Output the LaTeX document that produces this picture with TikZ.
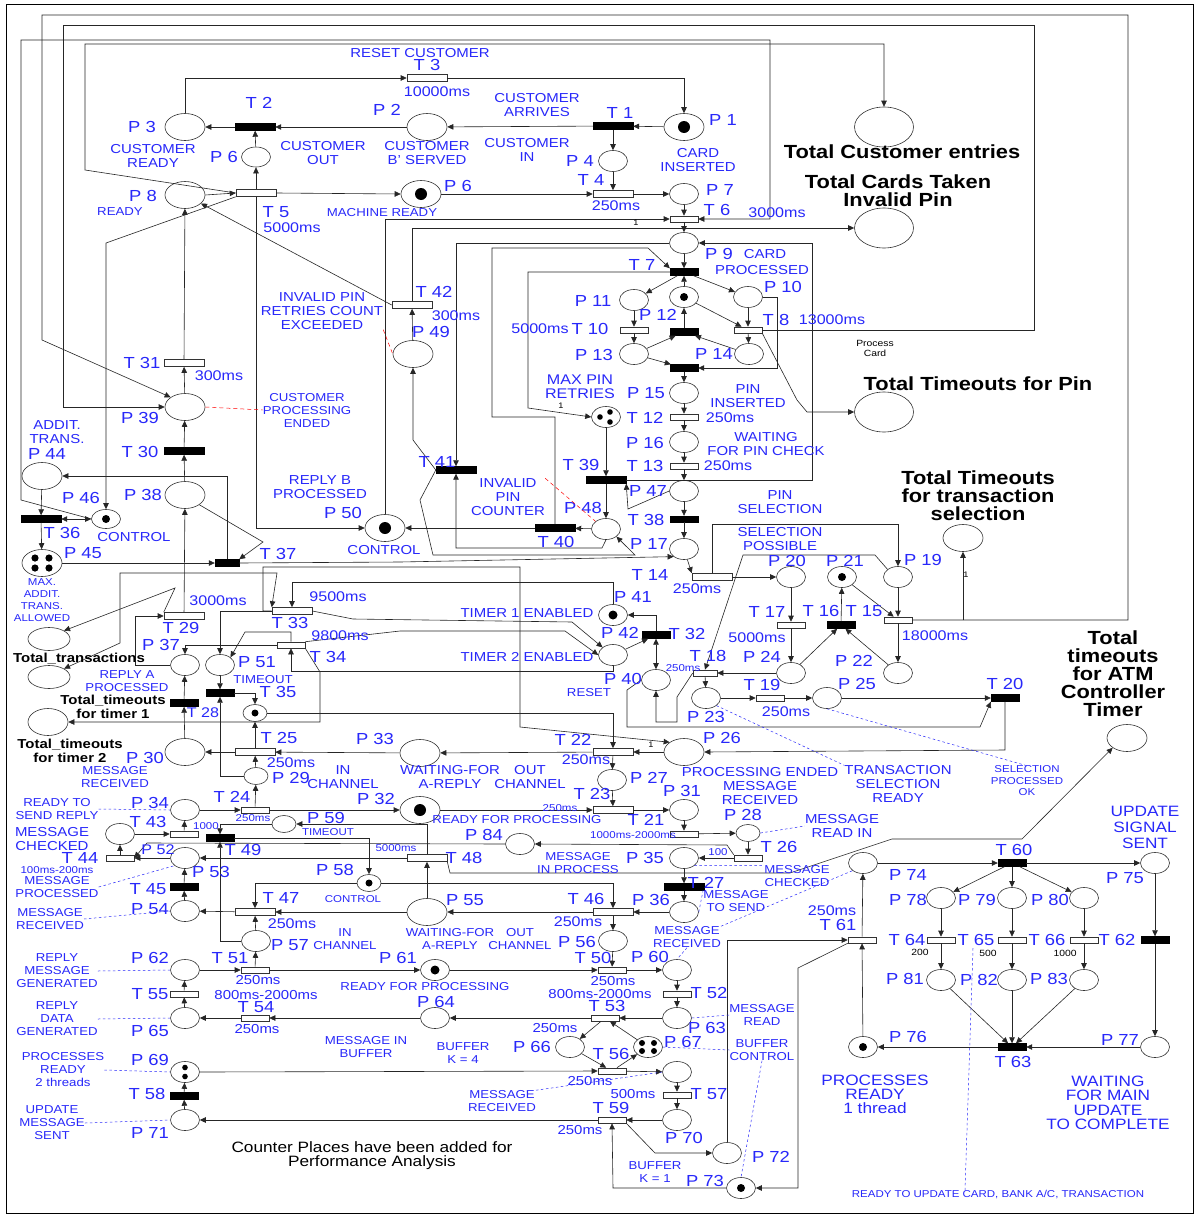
\documentclass[tikz,border=0pt]{standalone}
\usepackage{fontspec}
\setmainfont{Liberation Sans}[FakeStretch=1.15]
\usetikzlibrary{arrows.meta,shapes.geometric}
\definecolor{lb}{RGB}{40,40,250}
\begin{document}
\begin{tikzpicture}[x=1pt,y=-1pt]
\tikzset{
  pl/.style={draw=black!80, line width=0.6pt, ellipse, minimum width=29pt, minimum height=21pt, inner sep=0pt, fill=white},
  pls/.style={pl, minimum width=24pt, minimum height=17pt},
  plb/.style={pl, minimum width=40pt, minimum height=27pt},
  plc/.style={pl, minimum width=59pt, minimum height=40pt},
  tb/.style={draw=black, fill=black, rectangle, minimum width=40pt, minimum height=7pt, inner sep=0pt},
  tbs/.style={tb, minimum width=28pt},
  tw/.style={draw=black!80, line width=0.6pt, fill=white, rectangle, minimum width=40pt, minimum height=7pt, inner sep=0pt},
  tws/.style={tw, minimum width=28pt, minimum height=6pt},
  ar/.style={draw=black!85, line width=0.6pt, -{Triangle[length=6pt,width=5.5pt]}},
  ar2/.style={draw=black!85, line width=0.6pt, {Triangle[length=6pt,width=5.5pt]}-{Triangle[length=6pt,width=5.5pt]}},
  lab/.style={text=lb, font=\fontsize{16}{16}\selectfont, inner sep=0pt},
  dsc/.style={text=lb, font=\fontsize{13}{14}\selectfont, inner sep=0pt, align=center},
  dss/.style={text=lb, font=\fontsize{11.5}{13}\selectfont, inner sep=0pt, align=center},
  tm/.style={text=lb, font=\fontsize{14}{14}\selectfont, inner sep=0pt},
  tms/.style={text=lb, font=\fontsize{13}{13}\selectfont, inner sep=0pt},
  sm/.style={text=lb, font=\fontsize{10}{11.5}\selectfont, inner sep=0pt, align=center},
  onelbl/.style={font=\fontsize{8}{8}\selectfont, inner sep=0pt},
  blk/.style={font=\bfseries\fontsize{19}{18}\selectfont, inner sep=0pt, align=center},
  blks/.style={font=\bfseries\fontsize{13}{13.5}\selectfont, inner sep=0pt, align=center},
  rdash/.style={draw=red, line width=0.5pt, dash pattern=on 4pt off 3pt},
  bdash/.style={draw=lb, line width=0.5pt, dash pattern=on 2.5pt off 2.5pt},
}
\useasboundingbox (0,0) rectangle (1195,1215);
\fill[white] (0,0) rectangle (1195,1215);
\draw[line width=1pt] (6,5) rectangle (1193,1213);

% ---------------- places ----------------
\node[plb] (P3) at (185,127) {};
\node[plb] (P2) at (427,127) {};
\node[plb] (P1) at (684,127) {};
\node[plb] (P8) at (185,195) {};
\node[plb] (P6b) at (421,194) {};
\node[plb] (P49) at (413,354) {};
\node[plb] (P39) at (185,407) {};
\node[plb] (P38) at (185,495) {};
\node[plb] (P50) at (385,528) {};
\node[plb] (P44) at (42,476) {};
\node[plb] (P45) at (42,563) {};
\node[plb] (P30) at (185,752) {};
\node[plb] (P33) at (420,753) {};
\node[plb] (P26) at (684,752) {};
\node[plb] (P32) at (420,810) {};
\node[plb] (P55) at (427,912) {};
\node[plc] (tce) at (884,127) {};
\node[plc] (tct) at (884,228) {};
\node[plc] (ttp) at (884,412) {};
\node[plb] (tts) at (963,538) {};
\node[plb] (tatm) at (1127,738) {};
\node[plb, minimum height=23pt, minimum width=42pt] (cA) at (49,639) {};
\node[plb, minimum height=23pt, minimum width=42pt] (cTT) at (49,677) {};
\node[plb] (cT1) at (48,722) {};

\node[pl, minimum height=20pt] (P6a) at (256,157) {};
\node[pl] (P4) at (613,161) {};
\node[pl] (P7) at (684,194) {};
\node[pl] (P9) at (684,243) {};
\node[pl] (P11) at (634,300) {};
\node[pl] (P12) at (684,297) {};
\node[pl] (P10) at (748,297) {};
\node[pl] (P13) at (634,354) {};
\node[pl] (P14) at (749,354) {};
\node[pl] (P15) at (684,393) {};
\node[pl] (P16) at (684,442) {};
\node[pl] (P47) at (684,491) {};
\node[pl] (P17) at (684,549) {};
\node[pl] (Pmax) at (606,417) {};
\node[pl] (P48) at (606,529) {};
\node[pl, minimum height=19pt] (P46) at (106,519) {};
\node[pl] (P41) at (613,615) {};
\node[pl] (P42) at (613,655) {};
\node[pl] (P40) at (656,680) {};
\node[pl] (P23) at (706,698) {};
\node[pl] (P25) at (827,698) {};
\node[pl] (P24) at (791,673) {};
\node[pl] (P20) at (791,577) {};
\node[pl] (P21) at (842,577) {};
\node[pl] (P19) at (898,577) {};
\node[pl] (P22) at (898,673) {};
\node[pl] (P37) at (185,665) {};
\node[pl] (P51) at (220,665) {};
\node[pls] (Pt) at (255,713) {};
\node[pls] (P29) at (256,776) {};
\node[pl] (P27) at (612,780) {};
\node[pl] (P31) at (684,810) {};
\node[pls] (P28) at (748,833) {};
\node[pl] (P84) at (520,844) {};
\node[pl] (P35) at (684,858) {};
\node[pl] (P34) at (185,810) {};
\node[pls] (P59) at (284,824) {};
\node[pl] (Pmc) at (120,834) {};
\node[pl] (P52) at (185,858) {};
\node[pl] (P54) at (185,911) {};
\node[pls] (P58) at (369,883) {};
\node[pl] (P57) at (256,941) {};
\node[pl] (P36) at (684,912) {};
\node[pl] (P56) at (613,941) {};
\node[pl] (P61) at (435,970) {};
\node[pl] (P60) at (677,970) {};
\node[pl] (P62) at (185,970) {};
\node[pl] (P65) at (185,1018) {};
\node[pl] (P64) at (435,1018) {};
\node[pl] (P63) at (677,1018) {};
\node[pl] (P66) at (570,1047) {};
\node[pl] (P67) at (648,1047) {};
\node[pl] (P68) at (677,1072) {};
\node[pl] (P70) at (677,1120) {};
\node[pl] (P72) at (727,1153) {};
\node[pl] (P73) at (741,1188) {};
\node[pl] (P69) at (185,1072) {};
\node[pl] (P71) at (185,1120) {};
\node[pl] (P74) at (863,863) {};
\node[pl] (P75) at (1155,863) {};
\node[pl] (P78) at (941,898) {};
\node[pl] (P79) at (1012,898) {};
\node[pl] (P80) at (1084,898) {};
\node[pl] (P81) at (941,980) {};
\node[pl] (P82) at (1012,980) {};
\node[pl] (P83) at (1084,980) {};
\node[pl] (P76) at (863,1047) {};
\node[pl] (P77) at (1155,1047) {};

% tokens
\fill (P1) circle (6pt);
\fill (P6b) circle (6pt);
\fill (P50) circle (6pt);
\fill (P12) circle (4pt);
\fill (P46) circle (4pt);
\fill (P41) circle (4.5pt);
\fill (P21) circle (4pt);
\fill (Pt) circle (3.5pt);
\fill (P32) circle (6pt);
\fill (P58) circle (3.5pt);
\fill (P61) circle (4.5pt);
\fill (P73) circle (4pt);
\fill (P76) circle (4pt);
\foreach \dx/\dy in {-6/0,4/-5,4/5} \fill ([shift={(\dx,\dy)}]Pmax.center) circle (2.8pt);
\foreach \dx/\dy in {-7/-5,7/-5,-7/5,7/5} \fill ([shift={(\dx,\dy)}]P45.center) circle (3.6pt);
\foreach \dx/\dy in {-6/-4,6/-4,-6/4,6/4} \fill ([shift={(\dx,\dy)}]P67.center) circle (3pt);
\foreach \dx/\dy in {0/-4.5,0/4.5} \fill ([shift={(\dx,\dy)}]P69.center) circle (2.8pt);

% ---------------- transitions ----------------
\node[tb] (T1) at (613,126) {};
\node[tb] (T2) at (255,127) {};
\node[tb] (T30) at (184,451) {};
\node[tb] (T36) at (41,519) {};
\node[tb] (T39) at (606,480) {};
\node[tb] (T40) at (555,528) {};
\node[tb] (T41) at (456,470) {};
\node[tb] (T27) at (684,887) {};
\node[tbs] (T60) at (1012,863) {};
\node[tbs] (T63) at (1012,1047) {};
\node[tbs] (T62) at (1155,940) {};
\node[tbs] (T7) at (684,272) {};
\node[tbs] (T9) at (684,332) {};
\node[tbs] (T11) at (684,368) {};
\node[tbs, minimum height=6pt] (T38) at (684,519) {};
\node[tbs] (T32) at (656,635) {};
\node[tbs] (T16) at (841,625) {};
\node[tbs] (T20) at (1005,698) {};
\node[tbs] (T35) at (220,693) {};
\node[tbs] (T28) at (184,703) {};
\node[tbs] (T49) at (220,838) {};
\node[tbs] (T45) at (184,887) {};
\node[tbs] (T58) at (184,1096) {};
\node[tb, minimum width=24pt] (T37) at (227,563) {};

\node[tw] (T3) at (427,78) {};
\node[tw] (T4) at (613,194) {};
\node[tw] (T5) at (256,193) {};
\node[tw] (T42) at (412,305) {};
\node[tw] (T31) at (184,363) {};
\node[tw] (T14) at (712,577) {};
\node[tw] (T29) at (184,616) {};
\node[tw] (T25) at (255,752) {};
\node[tw] (T22) at (613,752) {};
\node[tw] (T23) at (613,810) {};
\node[tw] (T48) at (427,858) {};
\node[tw] (T47) at (255,912) {};
\node[tw] (T46) at (613,912) {};
\node[tws] (T6) at (684,219) {};
\node[tws] (T10) at (634,330) {};
\node[tws] (T8) at (748,330) {};
\node[tws] (T12) at (684,417) {};
\node[tws] (T13) at (684,466) {};
\node[tws] (T17) at (791,625) {};
\node[tws] (T15) at (898,620) {};
\node[tws, minimum width=24pt] (T18) at (705,673) {};
\node[tws] (T19) at (770,698) {};
\node[tw] (T33) at (292,611) {};
\node[tws] (T34) at (291,645) {};
\node[tws] (T21) at (684,834) {};
\node[tws] (T26) at (748,858) {};
\node[tws] (T24) at (255,810) {};
\node[tws] (T43) at (184,834) {};
\node[tws] (T44) at (120,858) {};
\node[tws] (T50) at (612,970) {};
\node[tws] (T51) at (255,970) {};
\node[tws] (T55) at (184,994) {};
\node[tws] (T52) at (677,994) {};
\node[tws] (T54) at (255,1018) {};
\node[tws] (T53) at (605,1018) {};
\node[tws] (T56) at (612,1071) {};
\node[tws] (T57) at (677,1095) {};
\node[tws] (T59) at (612,1120) {};
\node[tws] (T61) at (862,940) {};
\node[tws] (T64) at (941,940) {};
\node[tws] (T65) at (1012,940) {};
\node[tws] (T66) at (1084,940) {};

% ---------------- arcs: top ----------------
\draw[ar] (P1) -- (T1);
\draw[ar] (T1) -- (P2);
\draw[ar] (T1) -- (P4);
\draw[ar] (P4) -- (T4);
\draw[ar] (T4) -- (P7);
\draw[ar] (P6b) -- (T4);
\draw[ar] (P7) -- (T6);
\draw[ar] (T6) -- (P9);
\draw[ar] (P9) -- (T7);
\draw[ar] (P2) -- (T2);
\draw[ar] (T2) -- (P3);
\draw[ar] (P6a) -- (T2);
\draw[ar] (T5) -- (P6a);
\draw[ar] (P3.north) |- (T3.west);
\draw[ar] (T3.east) -| (P1.north);
\draw[ar] (P8.east) -- (T5.west);
\draw[ar] (T5.east) -- (P6b.west);
\draw[ar] (T42.west) -- (P8);
\draw[ar] (T5.south west) -- (106,243) -- (P46.north);
\draw[ar] (T5.south) -- (256,528) -- (P50.west);
\draw[ar] (T5.west) -- (85,170) -- (85,44) -- (884,44) -- (tce.north);
\draw[ar] (P50.north) -- (385,219) -- (T6.west);
\draw[ar] (P46.west) -- (21,500) -- (21,40) -- (770,40) -- (770,219) -- (T6.east);
\draw[ar] (T15.east) -- (1128,620) -- (1128,15) -- (42,15) -- (42,340) -- (P39.north west);
\draw[ar] (T8.east) -- (1034,330) -- (1034,25) -- (63,25) -- (63,407) -- (P39.west);
\draw[ar] (T42.north) -- (412,228) -- (tct.west);
\draw[ar] (T39.east) -- (812,480) -- (812,243) -- (P9.east);
\draw[ar] (P9.west) -- (456,243) -- (T41.north);
\draw[ar] (T40.north) -- (555,417) -- (492,417) -- (492,248) -- (648,248) -- (T7.north west);
\draw[ar] (T7.west) -- (528,272) -- (528,408) -- (Pmax.west);
\draw[ar] (T7) -- (P11);
\draw[ar] (T7) -- (P10);
\draw[ar] (P12) -- (T7);
\draw[ar] (P11) -- (T10);
\draw[ar] (T10) -- (P13);
\draw[ar] (P10) -- (T8);
\draw[ar] (T8) -- (P14);
\draw[ar] (P12) -- (T8);
\draw[ar] (T9) -- (P12);
\draw[ar] (P13) -- (T9);
\draw[ar] (P14) -- (T9);
\draw[ar] (P13) -- (T11);
\draw[ar] (P10.east) -- (777,297) -- (777,368) -- (T11.east);
\draw[ar] (T11) -- (P15);
\draw[ar] (P15) -- (T12);
\draw[ar] (T12) -- (P16);
\draw[ar] (P16) -- (T13);
\draw[ar] (T13) -- (P47);
\draw[ar] (P47) -- (T38);
\draw[ar] (T38) -- (P17);
\draw[ar] (P17) -- (T14.north west);
\draw[ar] (T8.south east) -- (797,400) -- (807,412) -- (ttp.west);
\draw[ar] (Pmax) -- (T39);
\draw[ar] (T39) -- (P48);
\draw[ar] (P47.west) -- (628,509) -- (T39.south east);
\draw[ar] (P48) -- (T40);
\draw[ar] (T40) -- (P50);
\draw[ar] (P48.south) -- (602,548) -- (456,548) -- (T41.south);
\draw[ar] (T41.west) -- (413,440) -- (P49.south);
\draw[ar] (P49) -- (T42);
\draw[ar] (T41.west) -- (420,500) -- (433,555) -- (635,555) -- (P48.south east);
\draw[ar] (T37.east) -- (400,562) -- (P17.south west);
\draw[ar] (P45.east) -- (T37.west);
\draw[ar] (T37.north) -- (227,476) -- (P44.east);
\draw[ar] (P38.south east) -- (263,542) -- (T37.north east);
\draw[ar] (P44) -- (T36);
\draw[ar] (T36) -- (P45);
\draw[ar2] (T36) -- (P46);
\draw[ar] (P38) -- (T30);
\draw[ar] (T30) -- (P39);
\draw[ar] (P39) -- (T31);
\draw[ar] (T31) -- (P8);

% ---------------- arcs: middle ----------------
\draw[ar] (T29) -- (P38);
\draw[ar] (P37.west) -- (135,665) -- (135,616) -- (T29.west);
\draw[ar] (P30) -- (T28);
\draw[ar] (T28) -- (P37);
\draw[ar] (T34.west) -| (P37.north);
\draw[ar] (T33.west) -| (P51.north);
\draw[ar] (T34.north) -- (291,632) -- (245,632) -- (P51.north east);
\draw[ar] (P51) -- (T35);
\draw[ar] (P29.west) -| (T35.south);
\draw[ar] (T35.east) -| (Pt.north);
\draw[ar] (T25) -- (Pt);
\draw[ar] (P29) -- (T25);
\draw[ar] (P33) -- (T25);
\draw[ar] (T25) -- (P30);
\draw[ar] (Pt.east) -- (613,713) -- (T22.north);
\draw[ar] (T33.west) -- (263,611) -- (263,567) -- (520,567) -- (520,727) -- (P26.north west);
\draw[ar2] (T33.north west) -- (277,573) -- (120,573) -- (120,643) -- (cTT.north east);
\draw[ar] (T29.north west) -- (175,588) -- (cA.north east);
\draw[ar] (T34.south east) -- (320,672) -- (320,722) -- (cT1.east);
\draw[ar] (P42.south) -- (613,671) -- (291,671) -- (T34.south);
\draw[ar] (T33.east) -- (353,619) -- (572,622) -- (P42.north west);
\draw[ar] (T34.north east) -- (400,631) -- (565,631) -- (P42.west);
\draw[ar] (P41.north) |- (292,582) -- (T33.north);
\draw[ar] (T32.north) |- (P41.east);
\draw[ar] (P42) -- (T32);
\draw[ar2] (T32) -- (P40);
\draw[ar] (T18.west) -- (677,697) -- (677,722) -- (656,722) -- (P40.south);
\draw[ar] (P24) -- (T18);
\draw[ar] (T18) -- (P23);
\draw[ar] (P23) -- (T19);
\draw[ar] (T19) -- (P25);
\draw[ar] (P25) -- (T20);
\draw[ar] (P19.north west) -- (875,555) -- (743,555) -- (T18.north);
\draw[ar] (T14.north) -- (712,524) -- (898,524) -- (P19.north);
\draw[ar] (T14.east) -- (P20.west);
\draw[ar] (P20) -- (T17);
\draw[ar] (T17) -- (P24);
\draw[ar] (P24) -- (T16);
\draw[ar] (P22) -- (T16);
\draw[ar] (T16) -- (P21);
\draw[ar] (P21) -- (T15);
\draw[ar] (P19) -- (T15);
\draw[ar] (T15) -- (P22);
\coordinate (j15) at (963,620);
\draw[ar] (j15) -- (tts.south);
\draw[ar] (T20.south) -- (1005,750) -- (P26.east);
\draw[ar] (P40.west) -- (627,690) -- (627,727) -- (980,727) -- (T20.south west);
\draw[ar] (P26) -- (T22);
\draw[ar] (T22) -- (P33);
\draw[ar] (T22) -- (P27);
\draw[ar] (P27) -- (T23);
\draw[ar] (P32) -- (T23);
\draw[ar] (T23) -- (P31);
\draw[ar] (P31) -- (T21);
\draw[ar] (T21) -- (P28);
\draw[ar] (P28) -- (T26);
\draw[ar] (T26) -- (P35);
\draw[ar] (T26.north west) -- (727,845) -- (P84.east);
\draw[ar] (P84.west) -- (147,843) -- (T44.east);
\draw[ar] (P52.west) -- (T44.east);
\draw[ar] (T44) -- (Pmc);
\draw[ar] (Pmc) -- (T43);
\draw[ar] (T43) -- (P34);
\draw[ar] (P34) -- (T24);
\draw[ar] (T24) -- (P29);
\draw[ar] (T24) -- (P32);
\draw[ar] (T45) -- (P52);
\draw[ar] (P54) -- (T45);
\draw[ar] (T48.west) -- (P52.east);
\draw[ar] (P55) -- (T48);
\draw[ar] (T48.north) |- (P59.east);
\draw[ar] (P59.west) -| (T49.north);
\draw[ar] (T49.east) -| (P58.north);
\draw[ar] (P57.west) -| (T49.south);
\draw[ar] (P58.east) -| (T46.north);
\draw[ar] (P58.west) -| (T47.north);
\draw[ar] (P57) -- (T47);
\draw[ar] (T47) -- (P54);
\draw[ar] (P55) -- (T47);
\draw[ar] (T46) -- (P55);
\draw[ar] (P36) -- (T46);
\draw[ar] (T46) -- (P56);
\draw[ar] (P56) -- (T50);
\draw[ar] (P35) -- (T27);
\draw[ar] (T27) -- (P36);
\draw[ar] (T48.south east) -- (450,873) -- (790,873) -- (892,839) -- (1022,839) -- (tatm.south west);

% ---------------- arcs: bottom ----------------
\draw[ar] (P62) -- (T51);
\draw[ar] (T51) -- (P57);
\draw[ar] (T51) -- (P61);
\draw[ar] (P61) -- (T50);
\draw[ar] (T50) -- (P60);
\draw[ar] (P60) -- (T52);
\draw[ar] (T52) -- (P63);
\draw[ar] (P63) -- (T53);
\draw[ar] (T53) -- (P64);
\draw[ar] (P64) -- (T54);
\draw[ar] (T54) -- (P65);
\draw[ar] (P65) -- (T55);
\draw[ar] (T55) -- (P62);
\draw[ar] (T53) -- (P66);
\draw[ar] (P67) -- (T53);
\draw[ar] (P66) -- (T56);
\draw[ar] (T56) -- (P67);
\draw[ar] (P69.east) -- (T56.west);
\draw[ar] (T56) -- (P68);
\draw[ar] (P68) -- (T57);
\draw[ar] (T57) -- (P70);
\draw[ar] (P70) -- (T59);
\draw[ar] (T59.west) -- (P71.east);
\draw[ar] (P71) -- (T58);
\draw[ar] (T58) -- (P69);
\draw[ar] (T59.south east) -- (655,1153) -- (P72.west);
\draw[ar] (P73.west) -- (613,1188) -- (T59.south);
\draw[ar] (P72.north) |- (T61.west);
\draw[ar] (T61.south west) -- (798,968) -- (798,1188) -- (P73.east);
\draw[ar] (P76) -- (T61);
\draw[ar] (T61) -- (P74);
\draw[ar] (P74) -- (T60);
\draw[ar] (T60) -- (P75);
\draw[ar] (T60) -- (P78);
\draw[ar] (T60) -- (P79);
\draw[ar] (T60) -- (P80);
\draw[ar] (P78) -- (T64);
\draw[ar] (T64) -- (P81);
\draw[ar] (P79) -- (T65);
\draw[ar] (T65) -- (P82);
\draw[ar] (P80) -- (T66);
\draw[ar] (T66) -- (P83);
\draw[ar] (P81) -- (T63);
\draw[ar] (P82) -- (T63);
\draw[ar] (P83) -- (T63);
\draw[ar] (P77) -- (T63);
\draw[ar] (T63) -- (P76);
\draw[ar] (P75) -- (T62);
\draw[ar] (T62) -- (P77);

% ---------------- labels: top ----------------
\node[dsc] (l1) at (420,53) {RESET CUSTOMER};
\node[lab] (l2) at (427,65) {T 3};
\node[tm] (l3) at (437,92) {10000ms};
\node[dsc] (l4) at (537,105) {CUSTOMER\\ARRIVES};
\node[lab] (l5) at (620,113) {T 1};
\node[lab] (l6) at (723,120) {P 1};
\node[dsc] (l7) at (698,160) {CARD\\INSERTED};
\node[dsc] (l8) at (527,150) {CUSTOMER\\IN};
\node[lab] (l9) at (580,161) {P 4};
\node[lab] (l10) at (591,180) {T 4};
\node[tm] (l11) at (616,206) {250ms};
\node[lab] (l12) at (720,190) {P 7};
\node[lab] (l13) at (717,210) {T 6};
\node[tm] (l14) at (777,213) {3000ms};
\node[onelbl] (l15) at (636,223) {1};
\node[lab] (l16) at (458,186) {P 6};
\node[dss] (l17) at (382,213) {MACHINE READY};
\node[lab] (l18) at (387,110) {P 2};
\node[dsc] (l19) at (427,153) {CUSTOMER\\B' SERVED};
\node[dsc] (l20) at (323,153) {CUSTOMER\\OUT};
\node[lab] (l21) at (259,103) {T 2};
\node[lab] (l22) at (142,127) {P 3};
\node[dsc] (l23) at (153,156) {CUSTOMER\\READY};
\node[lab] (l24) at (224,157) {P 6};
\node[lab] (l25) at (143,196) {P 8};
\node[dss] (l26) at (120,212) {READY};
\node[lab] (l27) at (276,212) {T 5};
\node[tm] (l28) at (292,228) {5000ms};
\node[blk] (l29) at (902,152) {Total Customer entries};
\node[blk] (l30) at (898,191) {Total Cards Taken\\Invalid Pin};
\node[lab] (l31) at (719,254) {P 9};
\node[dsc] (l32a) at (765,254) {CARD};
\node[dsc] (l32) at (762,270) {PROCESSED};
\node[lab] (l33) at (642,265) {T 7};
\node[lab] (l34) at (593,301) {P 11};
\node[lab] (l35) at (658,315) {P 12};
\node[lab] (l36) at (783,287) {P 10};
\node[tm] (l37) at (540,329) {5000ms};
\node[lab] (l38) at (590,329) {T 10};
\node[lab] (l39) at (776,320) {T 8};
\node[tm] (l40) at (832,320) {13000ms};
\node[lab] (l41) at (594,355) {P 13};
\node[lab] (l42) at (714,354) {P 14};
\node[onelbl, align=center, font=\fontsize{9}{10}\selectfont] (l43) at (875,348) {Process\\Card};
\node[lab] (l44) at (646,393) {P 15};
\node[dsc] (l45) at (748,396) {PIN\\INSERTED};
\node[lab] (l46) at (645,418) {T 12};
\node[tm] (l47) at (730,418) {250ms};
\node[lab] (l48) at (645,443) {P 16};
\node[dsc] (l49) at (766,444) {WAITING\\FOR PIN CHECK};
\node[lab] (l50) at (645,466) {T 13};
\node[tm] (l51) at (728,466) {250ms};
\node[lab] (l52) at (648,491) {P 47};
\node[lab] (l53) at (646,520) {T 38};
\node[lab] (l54) at (649,544) {P 17};
\node[lab] (l55) at (650,575) {T 14};
\node[tm] (l56) at (697,589) {250ms};
\node[dsc, font=\fontsize{14}{14}\selectfont] (l57) at (580,387) {MAX PIN\\RETRIES};
\node[onelbl] (l58) at (561,406) {1};
\node[lab] (l59) at (581,465) {T 39};
\node[lab] (l60) at (583,508) {P 48};
\node[dsc] (l61) at (508,497) {INVALID\\PIN\\COUNTER};
\node[lab] (l62) at (556,542) {T 40};
\node[lab] (l63) at (437,462) {T 41};
\node[lab] (l64) at (431,332) {P 49};
\node[lab] (l65) at (434,292) {T 42};
\node[tm] (l66) at (456,316) {300ms};
\node[dsc] (l67) at (322,311) {INVALID PIN\\RETRIES COUNT\\EXCEEDED};
\node[lab] (l68) at (142,363) {T 31};
\node[tm] (l69) at (219,376) {300ms};
\node[lab] (l70) at (140,418) {P 39};
\node[dss] (l71) at (307,410) {CUSTOMER\\PROCESSING\\ENDED};
\node[lab] (l72) at (140,452) {T 30};
\node[lab] (l73) at (143,495) {P 38};
\node[dsc] (l74) at (320,487) {REPLY B\\PROCESSED};
\node[lab] (l75) at (343,513) {P 50};
\node[dsc] (l76) at (384,550) {CONTROL};
\node[dsc] (l77) at (57,432) {ADDIT.\\TRANS.};
\node[lab] (l78) at (47,454) {P 44};
\node[lab] (l79) at (81,498) {P 46};
\node[dsc] (l80) at (134,537) {CONTROL};
\node[lab] (l81) at (62,533) {T 36};
\node[lab] (l82) at (83,553) {P 45};
\node[sm, font=\fontsize{10}{12}\selectfont] (l83) at (42,600) {MAX.\\ADDIT.\\TRANS.\\ALLOWED};
\node[lab] (l84) at (278,554) {T 37};
\node[dsc] (l85) at (780,502) {PIN\\SELECTION};
\node[dsc] (l86) at (780,539) {SELECTION\\POSSIBLE};
\node[lab] (l87) at (787,561) {P 20};
\node[lab] (l88) at (845,561) {P 21};
\node[lab] (l89) at (923,560) {P 19};
\node[blk] (l90) at (978,384) {Total Timeouts for Pin};
\node[blk] (l91) at (978,496) {Total Timeouts\\for transaction\\selection};
\node[onelbl] (l92) at (966,575) {1};
\node[lab] (l93) at (821,611) {T 16};
\node[lab] (l94) at (864,611) {T 15};
\node[tm] (l95) at (935,636) {18000ms};
\node[lab] (l96) at (767,612) {T 17};
\node[tm] (l97) at (757,638) {5000ms};
\node[lab] (l98) at (762,657) {P 24};
\node[lab] (l99) at (854,661) {P 22};

% ---------------- labels: middle ----------------
\node[lab] (m1) at (708,656) {T 18};
\node[sm] (m2) at (683,668) {250ms};
\node[lab] (m3) at (623,679) {P 40};
\node[dss] (m4) at (589,693) {RESET};
\node[lab] (m5) at (633,597) {P 41};
\node[dsc] (m6) at (527,613) {TIMER 1 ENABLED};
\node[lab] (m7) at (620,633) {P 42};
\node[dsc] (m8) at (527,657) {TIMER 2 ENABLED};
\node[lab] (m9) at (687,634) {T 32};
\node[lab] (m10) at (706,717) {P 23};
\node[lab] (m11) at (762,685) {T 19};
\node[tm] (m12) at (786,712) {250ms};
\node[lab] (m13) at (857,684) {P 25};
\node[lab] (m14) at (1005,684) {T 20};
\node[blk] (m15) at (1113,674) {Total\\timeouts\\for ATM\\Controller\\Timer};
\node[sm] (m16) at (1027,781) {SELECTION\\PROCESSED\\OK};
\node[dsc] (m17) at (898,784) {TRANSACTION\\SELECTION\\READY};
\node[dsc] (m18) at (760,786) {PROCESSING ENDED\\MESSAGE\\RECEIVED};
\node[lab] (m19) at (722,738) {P 26};
\node[onelbl] (m19b) at (651,745) {1};
\node[lab] (m20) at (573,740) {T 22};
\node[tm] (m21) at (586,760) {250ms};
\node[dsc] (m22) at (530,777) {OUT\\CHANNEL};
\node[dsc] (m23) at (450,777) {WAITING-FOR\\A-REPLY};
\node[lab] (m24) at (375,739) {P 33};
\node[dsc] (m25) at (343,777) {IN\\CHANNEL};
\node[lab] (m26) at (291,778) {P 29};
\node[lab] (m27) at (279,738) {T 25};
\node[tm] (m28) at (291,763) {250ms};
\node[lab] (m29) at (145,758) {P 30};
\node[dss] (m30) at (115,777) {MESSAGE\\RECEIVED};
\node[blks] (m31) at (70,751) {Total\_timeouts\\for timer 2};
\node[blks] (m32) at (113,707) {Total\_timeouts\\for timer 1};
\node[blks] (m33) at (79,659) {Total\_transactions};
\node[lab] (m34) at (161,645) {P 37};
\node[dss] (m35) at (127,681) {REPLY A\\PROCESSED};
\node[lab] (m36) at (257,662) {P 51};
\node[dss] (m37) at (263,680) {TIMEOUT};
\node[lab] (m38) at (278,692) {T 35};
\node[tm] (m39) at (203,713) {T 28};
\node[lab] (m40) at (181,628) {T 29};
\node[tm] (m41) at (218,601) {3000ms};
\node[lab] (m42) at (290,623) {T 33};
\node[tm] (m43) at (338,597) {9500ms};
\node[lab] (m44) at (328,657) {T 34};
\node[tm] (m45) at (340,636) {9800ms};
\node[lab] (m46) at (649,778) {P 27};
\node[lab] (m47) at (592,794) {T 23};
\node[sm] (m48) at (560,808) {250ms};
\node[lab] (m49) at (376,799) {P 32};
\node[dss] (m50) at (517,820) {READY FOR PROCESSING};
\node[lab] (m51) at (682,791) {P 31};
\node[lab] (m52) at (646,820) {T 21};
\node[sm] (m53) at (633,835) {1000ms-2000ms};
\node[lab] (m54) at (743,815) {P 28};
\node[dsc] (m55) at (842,826) {MESSAGE\\READ IN};
\node[lab] (m56) at (779,847) {T 26};
\node[sm] (m57) at (718,852) {100};
\node[lab] (m58) at (484,835) {P 84};
\node[dss] (m59) at (578,863) {MESSAGE\\IN PROCESS};
\node[lab] (m60) at (645,858) {P 35};
\node[dss] (m61) at (797,876) {MESSAGE\\CHECKED};
\node[lab] (m62) at (706,883) {T 27};
\node[dss] (m63) at (736,901) {MESSAGE\\TO SEND};
\node[lab] (m64) at (464,858) {T 48};
\node[sm] (m65) at (396,848) {5000ms};
\node[lab] (m66) at (232,797) {T 24};
\node[sm] (m67) at (253,818) {250ms};
\node[lab] (m68) at (150,803) {P 34};
\node[dss] (m69) at (57,809) {READY TO\\SEND REPLY};
\node[lab] (m70) at (326,818) {P 59};
\node[sm] (m71) at (328,832) {TIMEOUT};
\node[lab] (m72) at (148,822) {T 43};
\node[sm] (m73) at (206,826) {1000};
\node[lab] (m74) at (243,850) {T 49};
\node[dsc] (m75) at (52,839) {MESSAGE\\CHECKED};
\node[lab] (m76) at (80,858) {T 44};
\node[sm] (m77) at (57,870) {100ms-200ms};
\node[tm] (m78) at (158,850) {P 52};
\node[lab] (m79) at (211,872) {P 53};
\node[dss] (m80) at (57,887) {MESSAGE\\PROCESSED};
\node[lab] (m81) at (148,889) {T 45};
\node[lab] (m82) at (150,909) {P 54};
\node[dss] (m83) at (50,919) {MESSAGE\\RECEIVED};
\node[lab] (m84) at (335,870) {P 58};
\node[sm] (m85) at (353,899) {CONTROL};
\node[lab] (m86) at (281,898) {T 47};
\node[tm] (m87) at (292,924) {250ms};
\node[lab] (m88) at (290,945) {P 57};
\node[dss] (m89) at (345,939) {IN\\CHANNEL};
\node[lab] (m90) at (465,900) {P 55};
\node[dss] (m91) at (450,939) {WAITING-FOR\\A-REPLY};
\node[lab] (m92) at (586,899) {T 46};
\node[tm] (m93) at (578,922) {250ms};
\node[dss] (m94) at (520,939) {OUT\\CHANNEL};
\node[lab] (m95) at (651,900) {P 36};
\node[dss] (m96) at (687,937) {MESSAGE\\RECEIVED};

% ---------------- labels: bottom ----------------
\node[lab] (b1) at (577,942) {P 56};
\node[lab] (b2) at (593,958) {T 50};
\node[tms] (b3) at (613,981) {250ms};
\node[lab] (b4) at (398,958) {P 61};
\node[dss] (b5) at (425,987) {READY FOR PROCESSING};
\node[lab] (b6) at (650,957) {P 60};
\node[lab] (b7) at (230,958) {T 51};
\node[tms] (b8) at (258,980) {250ms};
\node[lab] (b9) at (150,958) {P 62};
\node[dss] (b10) at (57,971) {REPLY\\MESSAGE\\GENERATED};
\node[lab] (b11) at (150,994) {T 55};
\node[tms] (b12) at (266,995) {800ms-2000ms};
\node[lab] (b13) at (709,993) {T 52};
\node[tms] (b14) at (600,994) {800ms-2000ms};
\node[lab] (b15) at (150,1031) {P 65};
\node[dss] (b16) at (57,1019) {REPLY\\DATA\\GENERATED};
\node[lab] (b17) at (256,1007) {T 54};
\node[tms] (b18) at (257,1029) {250ms};
\node[lab] (b19) at (436,1002) {P 64};
\node[dss] (b20) at (366,1047) {MESSAGE IN\\BUFFER};
\node[dss] (b21) at (463,1053) {BUFFER\\K = 4};
\node[lab] (b22) at (607,1006) {T 53};
\node[tms] (b23) at (555,1028) {250ms};
\node[lab] (b24) at (707,1028) {P 63};
\node[dss] (b25) at (762,1015) {MESSAGE\\READ};
\node[lab] (b26) at (532,1047) {P 66};
\node[lab] (b27) at (683,1042) {P 67};
\node[dss] (b28) at (762,1050) {BUFFER\\CONTROL};
\node[lab] (b29) at (611,1054) {T 56};
\node[tms] (b30) at (590,1081) {250ms};
\node[lab] (b31) at (709,1094) {T 57};
\node[tms] (b32) at (633,1094) {500ms};
\node[dss] (b33) at (502,1101) {MESSAGE\\RECEIVED};
\node[lab] (b34) at (684,1138) {P 70};
\node[lab] (b35) at (611,1108) {T 59};
\node[tms] (b36) at (580,1130) {250ms};
\node[lab] (b37) at (771,1157) {P 72};
\node[lab] (b38) at (705,1181) {P 73};
\node[dss] (b39) at (655,1172) {BUFFER\\K = 1};
\node[lab] (b40) at (150,1060) {P 69};
\node[dss] (b41) at (63,1070) {PROCESSES\\READY\\2 threads};
\node[lab] (b42) at (147,1094) {T 58};
\node[lab] (b43) at (150,1133) {P 71};
\node[dss] (b44) at (52,1123) {UPDATE\\MESSAGE\\SENT};
\node[align=center, font=\fontsize{15}{14}\selectfont, inner sep=0pt] (b45) at (372,1156) {Counter Places have been added for\\Performance Analysis};
\node[lab] (b46) at (1014,850) {T 60};
\node[lab] (b47) at (908,875) {P 74};
\node[lab] (b48) at (1125,878) {P 75};
\node[dsc, font=\fontsize{15}{16}\selectfont] (b49) at (1145,827) {UPDATE\\SIGNAL\\SENT};
\node[lab] (b50) at (908,900) {P 78};
\node[lab] (b51) at (977,900) {P 79};
\node[lab] (b52) at (1050,900) {P 80};
\node[lab] (b53) at (838,925) {T 61};
\node[tm] (b54) at (832,911) {250ms};
\node[lab] (b55) at (907,940) {T 64};
\node[lab] (b56) at (976,940) {T 65};
\node[lab] (b57) at (1047,940) {T 66};
\node[lab] (b58) at (1117,940) {T 62};
\node[onelbl, font=\fontsize{9}{9}\selectfont] (b59) at (920,952) {200};
\node[onelbl, font=\fontsize{9}{9}\selectfont] (b60) at (988,953) {500};
\node[onelbl, font=\fontsize{9}{9}\selectfont] (b61) at (1065,953) {1000};
\node[lab] (b62) at (905,979) {P 81};
\node[lab] (b63) at (979,980) {P 82};
\node[lab] (b64) at (1049,979) {P 83};
\node[lab] (b65) at (908,1037) {P 76};
\node[dsc, font=\fontsize{15}{14}\selectfont] (b66) at (875,1094) {PROCESSES\\READY\\1 thread};
\node[lab] (b67) at (1013,1062) {T 63};
\node[lab] (b68) at (1120,1040) {P 77};
\node[dsc, font=\fontsize{15}{14.5}\selectfont] (b69) at (1108,1103) {WAITING\\FOR MAIN\\UPDATE\\TO COMPLETE};
\node[sm] (b70) at (998,1195) {READY TO UPDATE CARD, BANK A/C, TRANSACTION};

% ---------------- annotation lines ----------------
\draw[rdash] (l67.south east) -- (P49.west);
\draw[rdash] (P39.east) -- (l71.west);
\draw[rdash] (l61.north east) -- (P48.north west);
\draw[bdash] (m69.east) -- (P34.west);
\draw[bdash] (m80.east) -- (P52.south west);
\draw[bdash] (m83.east) -- (P54.west);
\draw[bdash] (b10.east) -- (P62.west);
\draw[bdash] (b16.east) -- (P65.west);
\draw[bdash] (b41.east) -- (P69.west);
\draw[bdash] (b44.east) -- (P71.west);
\draw[bdash] (P23.south east) -- (m17.north west);
\draw[bdash] (P25.south) -- (m16.north);
\draw[bdash] (P28.east) -- (m55.west);
\draw[bdash] (P35.south east) -- (m61.north west);
\draw[bdash] (P36.east) -- (m63.north west);
\draw[bdash] (m96.north east) -- (P74.south west);
\draw[bdash] (m96.south) -- (P60.north);
\draw[bdash] (P63.east) -- (b25.west);
\draw[bdash] (P67.east) -- (b28.west);
\draw[bdash] (P68.west) -- (b33.north east);
\draw[bdash] (b28.south) -- (P73.north);
\coordinate (d65) at (973,948);
\draw[bdash] (d65) -- (b70.north -| 965,0);
\end{tikzpicture}
\end{document}
